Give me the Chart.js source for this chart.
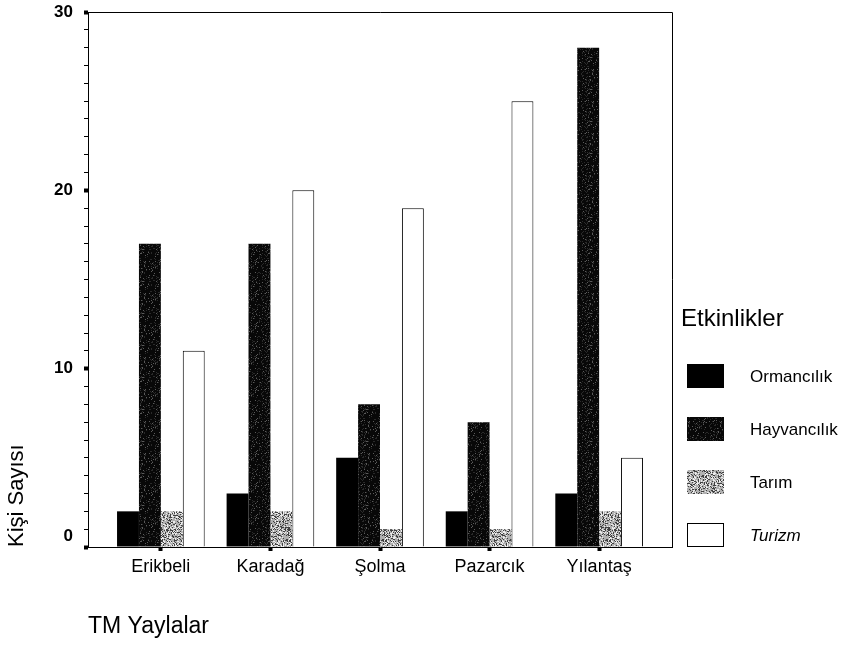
<!DOCTYPE html>
<html>
<head>
<meta charset="utf-8">
<title>Etkinlikler</title>
<script src="https://cdn.jsdelivr.net/npm/chart.js@4"></script>
<style>
  html, body { margin: 0; padding: 0; background: #fff; }
  #wrap { width: 853px; height: 649px; }
</style>
</head>
<body>
<div id="wrap"><canvas id="chart" width="853" height="649"></canvas></div>
<script>
// values
const yaylalar    = ['Erikbeli', 'Karadağ', 'Şolma', 'Pazarcık', 'Yılantaş'];
const ormancilik  = [2, 3, 5, 2, 3];
const hayvancilik = [17, 17, 8, 7, 28];
const tarim       = [2, 2, 1, 1, 2];
const turizm      = [11, 20, 19, 25, 5];
const etkinlikler = ['Ormancılık', 'Hayvancılık', 'Tarım', 'Turizm'];
const yTicks      = [0, 10, 20, 30];

const FONT = '"Liberation Sans", Arial, sans-serif';
Chart.defaults.font.family = FONT;
Chart.defaults.color = '#000';

// fixed speckle textures (scanned print look)
function hash(x, y, seed) {
  let h = Math.imul(x, 374761393) + Math.imul(y, 668265263) + seed;
  h = Math.imul(h ^ (h >>> 13), 1274126177);
  return (h ^ (h >>> 16)) >>> 0;
}
function speckle(base, dots) {
  const c = document.createElement('canvas');
  c.width = c.height = 32;
  const g = c.getContext('2d');
  g.fillStyle = base; g.fillRect(0, 0, 32, 32);
  dots.forEach(([col, every, seed]) => {
    g.fillStyle = col;
    for (let y = 0; y < 32; y++) for (let x = 0; x < 32; x++)
      if (hash(x, y, seed) % every === 0) g.fillRect(x, y, 1, 1);
  });
  return g.createPattern(c, 'repeat');
}
const darkDots = speckle('#080808', [['#5a5a5a', 17, 11], ['#2a2a2a', 9, 29]]);
const greyDots = speckle('#b0b0b0', [['#404040', 3, 5], ['#ececec', 4, 17]]);

const pts = arr => arr.map((v, i) => ({ x: i, y: v }));

const frame = {
  id: 'frame',
  afterDraw(chart) {
    const { ctx, chartArea: a } = chart;
    ctx.save();
    ctx.strokeStyle = '#000'; ctx.lineWidth = 1;
    ctx.beginPath();
    ctx.moveTo(a.left, a.top + 0.5);
    ctx.lineTo(a.right + 0.5, a.top + 0.5);
    ctx.lineTo(a.right + 0.5, a.bottom);
    ctx.stroke();
    ctx.restore();
  }
};

// legend drawn beside the frame, bottom aligned with the x axis
const sideLegend = {
  id: 'sideLegend',
  afterDraw(chart) {
    const { ctx, chartArea: a } = chart;
    const sets = chart.data.datasets;
    const x0 = a.right + 9, step = 53, bw = 37, bh = 24;
    const top0 = a.bottom - bh - (sets.length - 1) * step;
    ctx.save();
    ctx.fillStyle = '#000';
    ctx.font = '24px ' + FONT;
    ctx.textBaseline = 'alphabetic';
    ctx.fillText('Etkinlikler', x0, top0 - 38);
    sets.forEach((ds, i) => {
      const top = top0 + i * step;
      ctx.fillStyle = ds.backgroundColor;
      ctx.fillRect(x0 + 6, top, bw, bh);
      if (ds.borderWidth) {
        ctx.strokeStyle = '#000'; ctx.lineWidth = 1;
        ctx.strokeRect(x0 + 6.5, top + 0.5, bw - 1, bh - 1);
      }
      ctx.fillStyle = '#000';
      ctx.font = (ds.label === 'Turizm' ? 'italic ' : '') + '17px ' + FONT;
      ctx.textBaseline = 'middle';
      ctx.fillText(ds.label, x0 + 69, top + bh / 2 + 1);
    });
    ctx.restore();
  }
};

new Chart(document.getElementById('chart'), {
  type: 'bar',
  data: {
    datasets: [
      { label: etkinlikler[0], data: pts(ormancilik),  backgroundColor: '#000', borderWidth: 0 },
      { label: etkinlikler[1], data: pts(hayvancilik), backgroundColor: darkDots, borderWidth: 0 },
      { label: etkinlikler[2], data: pts(tarim),       backgroundColor: greyDots, borderWidth: 0 },
      { label: etkinlikler[3], data: pts(turizm),      backgroundColor: '#fff', borderColor: '#000', borderWidth: 1 }
    ]
  },
  options: {
    responsive: false,
    animation: false,
    layout: { padding: { top: 12, right: 181, bottom: 0, left: 0 } },
    datasets: { bar: { categoryPercentage: 0.8, barPercentage: 1.0 } },
    plugins: { legend: { display: false }, tooltip: { enabled: false } },
    scales: {
      x: {
        type: 'linear', min: -0.665, max: 4.665, offset: false,
        afterBuildTicks: s => { s.ticks = yaylalar.map((_, i) => ({ value: i })); },
        afterFit: s => { s.height = 102; s.paddingLeft = 0; s.paddingRight = 0; },
        ticks: { callback: v => yaylalar[v], font: { size: 18 }, padding: 5, autoSkip: false, maxRotation: 0 },
        grid: { offset: false, drawOnChartArea: false, tickLength: 4, tickWidth: 4, tickColor: '#000' },
        border: { color: '#000', width: 1 },
        title: { display: true, text: 'TM Yaylalar', align: 'start', font: { size: 23 }, padding: { top: 0, bottom: 9 } }
      },
      y: {
        min: 0, max: 30,
        afterFit: s => { s.width = 88; s.paddingTop = 0; s.paddingBottom = 0; },
        ticks: {
          stepSize: 1, autoSkip: false, font: { size: 17, weight: 'bold' }, padding: 11,
          // the 0 label sits a little above the axis line in the original
          callback: v => v === 0 ? ['0', ''] : (yTicks.includes(v) ? v : '')
        },
        grid: { drawOnChartArea: false, tickLength: 4, tickColor: '#000', tickWidth: c => yTicks.includes(c.tick.value) ? 4 : 1 },
        border: { color: '#000', width: 1 },
        title: { display: true, text: 'Kişi Sayısı', align: 'start', font: { size: 22 }, padding: { top: 4, bottom: 0 } }
      }
    }
  },
  plugins: [frame, sideLegend]
});
</script>
</body>
</html>
